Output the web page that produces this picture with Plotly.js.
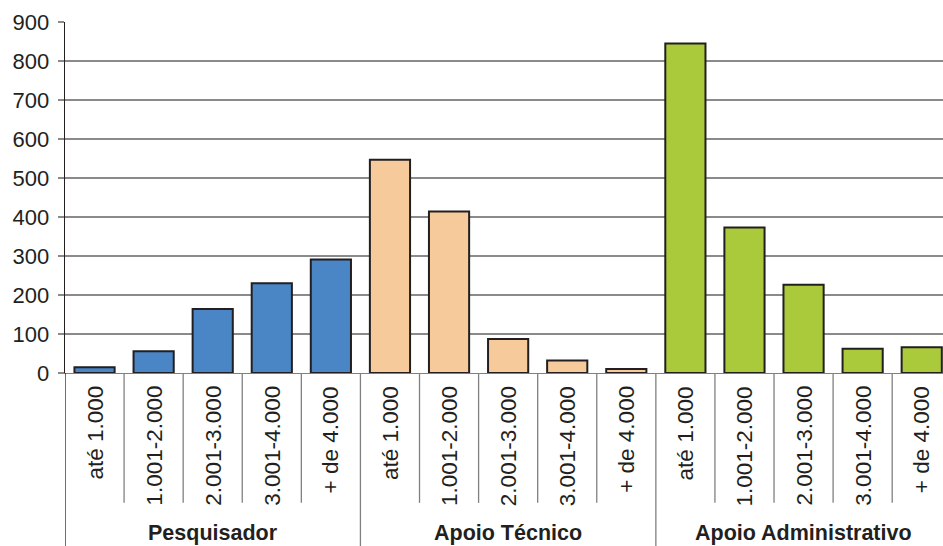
<!DOCTYPE html>
<html>
<head>
<meta charset="utf-8">
<script src="https://cdn.plot.ly/plotly-3.0.1.min.js"></script>
<style>html,body{margin:0;padding:0;background:#fff;}#chart{width:943px;height:546px;}</style>
</head>
<body>
<div id="chart"></div>
<script>
const groups = ["Pesquisador", "Apoio Técnico", "Apoio Administrativo"];
const faixas = ["até 1.000", "1.001-2.000", "2.001-3.000", "3.001-4.000", "+ de 4.000"];
const pesquisador = [15, 56, 164, 230, 291];
const apoioTecnico = [547, 414, 87, 32, 10];
const apoioAdministrativo = [845, 373, 226, 62, 66];
const colors = ["#4a86c6", "#f6ca9b", "#abca3b"];
const yTicks = [0, 100, 200, 300, 400, 500, 600, 700, 800, 900];

const seriesValues = [pesquisador, apoioTecnico, apoioAdministrativo];
const txtColor = "#231f20";
const font = "Liberation Sans, Arial, sans-serif";

const ids = [];
groups.forEach(g => faixas.forEach(f => ids.push(g + "|" + f)));

const traces = groups.map((g, gi) => ({
  type: "bar",
  x: faixas.map(f => g + "|" + f),
  y: seriesValues[gi],
  marker: {color: colors[gi], line: {color: txtColor, width: 2}},
  hoverinfo: "x+y",
  showlegend: false
}));

const annotations = [];
ids.forEach((id, i) => {
  annotations.push({
    x: id, xref: "x", y: 0, yref: "paper", yshift: -11,
    text: faixas[i % faixas.length], textangle: -90,
    xanchor: "center", yanchor: "top", showarrow: false,
    font: {family: font, size: 22.5, color: txtColor}
  });
});
groups.forEach((g, gi) => {
  annotations.push({
    x: ids[gi * faixas.length + 2], xref: "x", y: 0, yref: "paper", yshift: -160,
    text: "<b>" + g + "</b>", xanchor: "center", yanchor: "middle", showarrow: false,
    font: {family: font, size: 21.5, color: txtColor}
  });
});

const shapes = [];
for (let k = 1; k < ids.length; k++) {
  const isGroup = k % faixas.length === 0;
  shapes.push({
    type: "line", xref: "x", yref: "paper",
    x0: k - 0.5, x1: k - 0.5, y0: 0, y1: isGroup ? -0.5 : -0.370,
    line: {color: "#808080", width: 1.3}
  });
}
shapes.push({
  type: "line", xref: "x", yref: "paper",
  x0: -0.5, x1: -0.5, y0: 0, y1: -0.5,
  line: {color: txtColor, width: 1.3}
});

const layout = {
  width: 943, height: 546,
  margin: {l: 65, r: 0, t: 22, b: 173},
  paper_bgcolor: "#fff", plot_bgcolor: "#fff",
  bargap: 0.32,
  xaxis: {
    type: "category", categoryorder: "array", categoryarray: ids,
    range: [-0.5, 14.36], showticklabels: false, ticks: "",
    showgrid: false, zeroline: false,
    showline: true, linecolor: "#808080", linewidth: 1.3
  },
  yaxis: {
    range: [0, 900], tickvals: yTicks, ticktext: yTicks.map(String),
    showgrid: true, gridcolor: "#8a8a8a", gridwidth: 1.3,
    zeroline: false, showline: true, linecolor: txtColor, linewidth: 1.3,
    ticks: "outside", ticklen: 6, tickcolor: "#8a8a8a", tickwidth: 1.3,
    ticklabelstandoff: 4,
    tickfont: {family: font, size: 22, color: txtColor}
  },
  annotations: annotations,
  shapes: shapes
};

Plotly.newPlot("chart", traces, layout, {displayModeBar: false, staticPlot: true});
</script>
</body>
</html>
